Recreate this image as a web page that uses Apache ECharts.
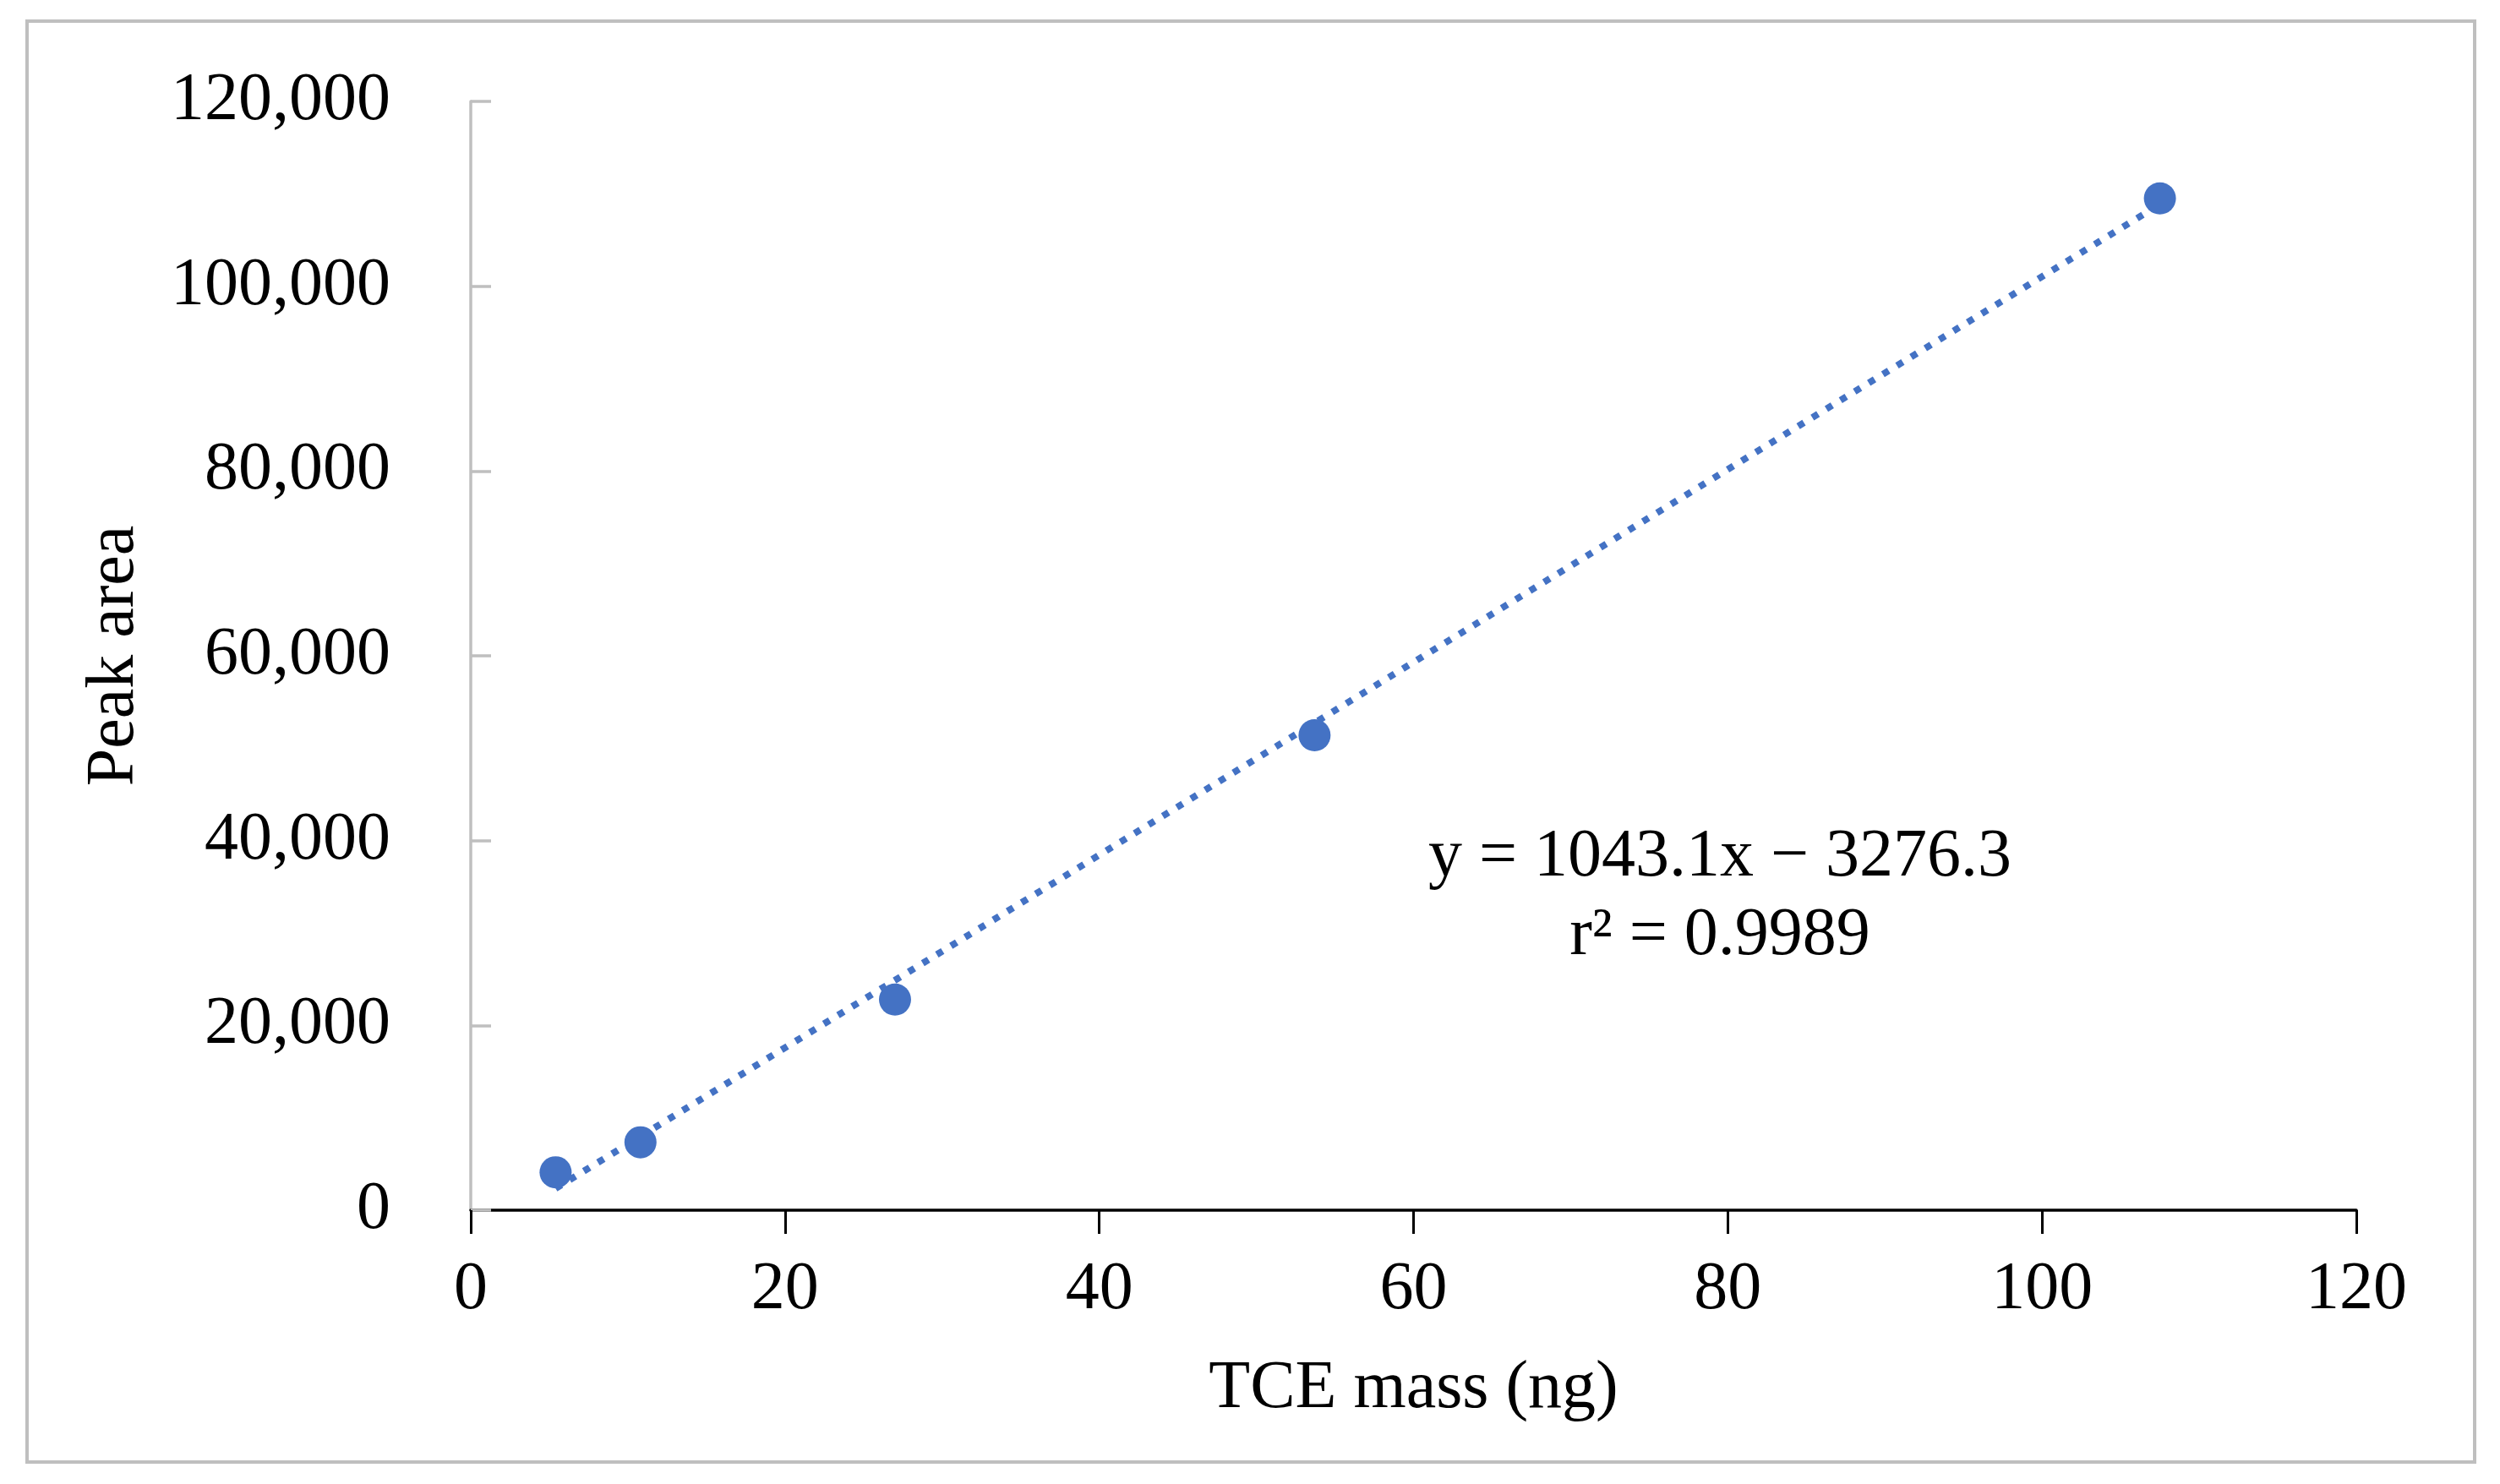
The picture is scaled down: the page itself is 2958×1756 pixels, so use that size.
<!DOCTYPE html>
<html>
<head>
<meta charset="utf-8">
<title>Peak area vs TCE mass</title>
<script src="https://cdn.jsdelivr.net/npm/echarts@6/dist/echarts.min.js"></script>
<style>
    html, body { margin: 0; padding: 0; background: #fff; }
    #main { width: 2958px; height: 1756px; }
</style>
</head>
<body>
<div id="main"></div>
<script>
    // data
    var massNg = [5.4, 10.8, 27, 53.7, 107.5];
    var peakArea = [4100, 7350, 22800, 51400, 109500];
    // ends of the dotted trend line
    var trendX = [5.4, 107.5];
    var trendY = [2356, 108860];
    var equationText = 'y = 1043.1x \u2212 3276.3';
    var r2Text = 'r\u00b2 = 0.9989';

    var font = 'Liberation Serif';
    var blue = '#4472C4';

    function thousands(v) {
        return String(v).replace(/\B(?=(\d{3})+(?!\d))/g, ',');
    }

    var points = [];
    for (var i = 0; i < massNg.length; i++) {
        points.push([massNg[i], peakArea[i]]);
    }
    var trend = [];
    for (var i = 0; i < trendX.length; i++) {
        trend.push([trendX[i], trendY[i]]);
    }

    var myChart = echarts.init(document.getElementById('main'));
    myChart.setOption({
        backgroundColor: '#fff',
        animation: false,
        grid: {
            left: 557,
            right: 170,
            top: 120,
            bottom: 324,
            outerBoundsMode: 'none'
        },
        xAxis: {
            type: 'value',
            min: 0,
            max: 120,
            interval: 20,
            name: 'TCE mass (ng)',
            nameLocation: 'middle',
            nameGap: 172,
            nameTextStyle: { fontFamily: font, fontSize: 80, color: '#000', lineHeight: 80 },
            axisLine: { show: true, onZero: false, lineStyle: { color: '#000', width: 3.5 } },
            axisTick: { show: true, inside: false, length: 28, lineStyle: { color: '#000', width: 3 } },
            axisLabel: { fontFamily: font, fontSize: 80, color: '#000', margin: 55, lineHeight: 80 },
            splitLine: { show: false }
        },
        yAxis: {
            type: 'value',
            min: 0,
            max: 120000,
            interval: 20000,
            name: 'Peak area',
            nameLocation: 'middle',
            nameGap: 381,
            nameRotate: 90,
            nameTextStyle: { fontFamily: font, fontSize: 80, color: '#000', lineHeight: 80 },
            axisLine: { show: true, lineStyle: { color: '#bfbfbf', width: 3.5 } },
            axisTick: { show: true, inside: true, length: 24, lineStyle: { color: '#bfbfbf', width: 3.5 } },
            axisLabel: {
                fontFamily: font,
                fontSize: 80,
                color: '#000',
                margin: 95,
                formatter: function (v) { return thousands(v); }
            },
            splitLine: { show: false }
        },
        series: [{
            name: 'trend',
            type: 'line',
            data: trend,
            showSymbol: false,
            symbol: 'none',
            lineStyle: { color: blue, width: 8, type: [8, 11.6], cap: 'butt' },
            z: 2
        }, {
            name: 'Peak area',
            type: 'scatter',
            data: points,
            symbol: 'circle',
            symbolSize: 38,
            itemStyle: { color: blue, opacity: 1 },
            z: 3
        }],
        graphic: [{
            type: 'rect',
            shape: { x: 32, y: 25, width: 2896, height: 1705 },
            style: { fill: 'none', stroke: '#bfbfbf', lineWidth: 4 },
            silent: true
        }, {
            type: 'text',
            x: 2035,
            y: 1015,
            style: {
                text: equationText,
                fontFamily: font,
                fontSize: 80,
                fill: '#000',
                align: 'center',
                verticalAlign: 'middle'
            }
        }, {
            type: 'text',
            x: 2035,
            y: 1108,
            style: {
                text: r2Text,
                fontFamily: font,
                fontSize: 80,
                fill: '#000',
                align: 'center',
                verticalAlign: 'middle'
            }
        }]
    });
</script>
</body>
</html>
